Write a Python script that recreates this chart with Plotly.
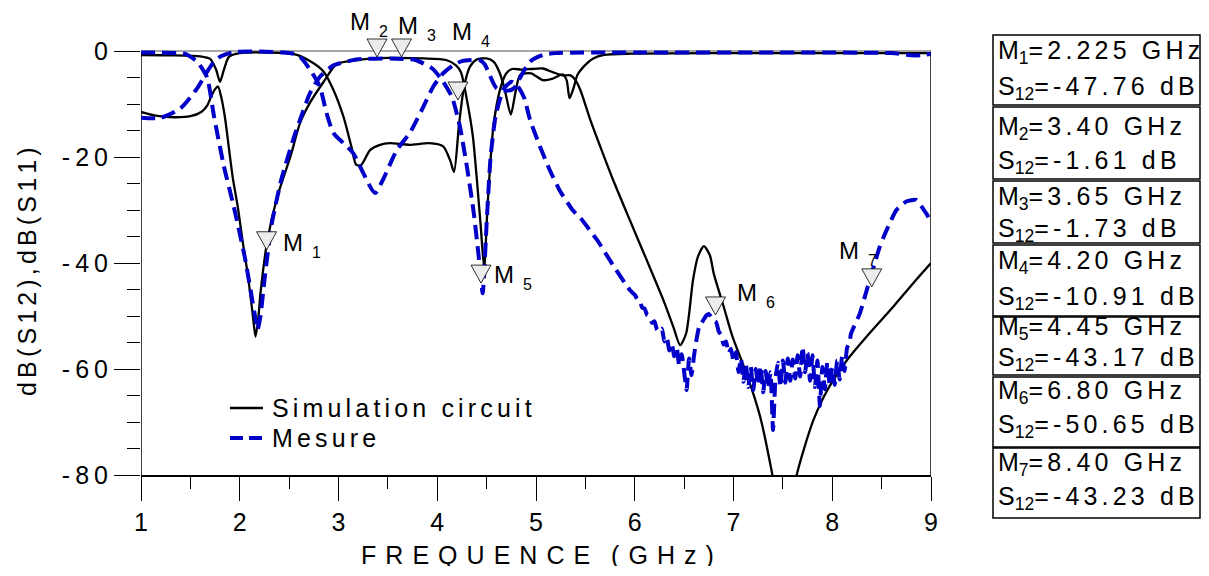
import plotly.graph_objects as go

# ---------------- data ----------------
# simulated S12 (solid black)
sim_s12_f = [1.00, 1.15, 1.34, 1.50, 1.61, 1.67, 1.71, 1.75, 1.78, 1.81, 1.85, 1.88, 1.93, 1.98,
             2.03, 2.08, 2.13, 2.16, 2.19, 2.21, 2.28, 2.38, 2.52, 2.61, 2.71, 2.85, 2.98, 3.18,
             3.52, 3.86, 4.09, 4.19, 4.24, 4.30, 4.36, 4.40, 4.44, 4.475, 4.51, 4.57, 4.64, 4.70,
             4.76, 4.85, 4.95, 5.07, 5.17, 5.27, 5.35, 5.40, 5.45, 5.55, 5.65, 5.78, 5.95, 6.12,
             6.29, 6.39, 6.46, 6.52, 6.59, 6.64, 6.70, 6.76, 6.80, 6.90, 6.99, 7.13, 7.27, 7.39,
             7.45, 7.52, 7.58, 7.64, 7.71, 7.81, 7.95, 8.15, 8.38, 8.62, 8.82, 9.00]
sim_s12_db = [-11.5, -12.2, -12.5, -12.3, -11.5, -10.3, -8.6, -7.2, -6.7, -8.5, -12.5, -16.8, -24.0, -29.4,
              -36.0, -42.0, -49.5, -53.9, -50.0, -45.7, -35.7, -27.5, -19.5, -13.6, -9.8, -5.8, -2.5, -1.7,
              -1.3, -1.4, -1.7, -2.7, -4.0, -9.2, -16.0, -24.0, -33.0, -41.0, -29.0, -14.0, -7.0, -4.2,
              -3.4, -3.5, -3.4, -3.3, -4.0, -4.6, -4.6, -5.5, -7.4, -13.0, -18.0, -24.3, -31.9, -39.4,
              -47.0, -52.0, -55.5, -53.3, -43.2, -38.8, -36.8, -38.5, -42.0, -48.2, -53.9, -60.8, -69.0, -79.6,
              -86.0, -90.0, -86.0, -80.0, -75.3, -69.6, -64.0, -58.3, -53.2, -48.2, -43.8, -40.0]

# simulated S11 (solid black)
sim_s11_f = [1.00, 1.30, 1.60, 1.70, 1.76, 1.80, 1.84, 1.89, 2.00, 2.30, 2.55, 2.71, 2.85, 2.95,
             3.05, 3.13, 3.18, 3.23, 3.32, 3.42, 3.52, 3.72, 3.92, 4.06, 4.13, 4.17, 4.22, 4.27,
             4.33, 4.40, 4.50, 4.57, 4.63, 4.68, 4.745, 4.79, 4.84, 4.95, 5.07, 5.17, 5.27, 5.31,
             5.34, 5.38, 5.42, 5.48, 5.58, 5.69, 5.96, 7.00, 9.00]
sim_s11_db = [-0.75, -0.8, -1.0, -1.5, -3.5, -5.8, -3.5, -1.1, -0.4, -0.3, -0.6, -1.9, -3.9, -7.4,
              -12.4, -18.0, -21.5, -21.5, -18.7, -17.7, -17.4, -17.7, -17.4, -18.0, -20.6, -22.8, -14.0, -6.9,
              -3.0, -1.6, -1.4, -2.0, -4.0, -7.0, -12.0, -8.0, -4.5, -4.2, -5.5, -5.2, -4.4, -5.5,
              -8.9, -7.0, -4.5, -3.0, -1.4, -0.75, -0.5, -0.4, -0.4]

# measured S12 (blue dashed)
meas_s12_f = [1.00, 1.20, 1.44, 1.57, 1.67, 1.74, 1.84, 1.94, 2.05, 2.15, 2.18, 2.21, 2.25, 2.32,
              2.42, 2.55, 2.61, 2.71, 2.81, 2.95, 3.18, 3.52, 3.78, 3.95, 4.05, 4.15, 4.23, 4.30,
              4.37, 4.42, 4.46, 4.50, 4.54, 4.59, 4.67, 4.75, 4.81, 4.88, 4.94, 5.04, 5.14, 5.24,
              5.37, 5.45, 5.62, 5.79, 5.95,
              6.000, 6.025, 6.050, 6.075, 6.100, 6.125, 6.150, 6.175, 6.200, 6.225, 6.250, 6.275,
              6.300, 6.325, 6.350, 6.375, 6.400, 6.425, 6.450, 6.475, 6.500, 6.525, 6.550, 6.575,
              6.600, 6.625, 6.650, 6.675, 6.700, 6.725, 6.750, 6.775, 6.800, 6.825, 6.850, 6.875,
              6.900, 6.925, 6.950, 6.975, 7.000, 7.025, 7.050, 7.075, 7.100, 7.125, 7.150, 7.175,
              7.200, 7.225, 7.250, 7.275, 7.300, 7.325, 7.350, 7.375, 7.400, 7.425, 7.450, 7.475,
              7.500, 7.525, 7.550, 7.575, 7.600, 7.625, 7.650, 7.675, 7.700, 7.725, 7.750, 7.775,
              7.800, 7.825, 7.850, 7.875, 7.900, 7.925, 7.950, 7.975, 8.000, 8.025, 8.050, 8.075,
              8.100, 8.125, 8.150, 8.175,
              8.19, 8.28, 8.34, 8.41, 8.48, 8.55, 8.65, 8.75, 8.85, 8.95, 9.00]
meas_s12_db = [-0.3, -0.3, -0.5, -2.0, -5.0, -12.4, -21.8, -29.4, -38.8, -49.5, -52.6, -50.0, -43.2, -33.0,
               -24.3, -16.2, -13.0, -8.0, -4.9, -2.7, -1.6, -1.4, -1.7, -3.3, -5.5, -8.7, -14.3, -21.8,
               -30.6, -38.8, -45.7, -32.5, -20.0, -12.4, -7.2, -5.8, -6.5, -8.8, -13.0, -18.0, -22.5, -26.3,
               -30.0, -31.5, -35.7, -40.7, -45.1,
               -46.0, -46.8, -47.2, -48.4, -48.6, -49.8, -50.1, -51.3, -51.0, -52.6, -53.0, -52.4,
               -54.8, -54.0, -56.5, -55.2, -57.6, -56.0, -59.4, -57.2, -60.5, -64.0, -58.0, -61.2,
               -57.5, -54.5, -52.2, -51.4, -50.6, -49.9, -49.6, -50.2, -50.9, -51.2, -52.9, -53.6,
               -55.4, -54.8, -57.0, -56.2, -58.6, -56.8, -60.6, -58.0, -62.4, -59.0, -63.4, -59.6,
               -64.0, -60.0, -63.0, -59.4, -64.4, -60.4, -63.6, -60.6, -71.5, -61.8, -58.8, -63.4,
               -58.4, -62.6, -58.0, -62.2, -58.2, -61.8, -57.4, -61.4, -55.8, -60.6, -57.0, -62.2,
               -57.4, -63.4, -58.4, -67.0, -59.6, -63.8, -58.8, -63.2, -59.8, -63.0, -58.4, -62.0,
               -57.6, -60.4, -56.0, -55.0,
               -53.3, -49.5, -45.7, -41.3, -37.0, -33.8, -30.0, -28.4, -28.1, -30.6, -32.2]

# measured S11 (blue dashed)
meas_s11_f = [1.00, 1.20, 1.40, 1.57, 1.67, 1.74, 1.81, 1.94, 2.20, 2.45, 2.59, 2.70, 2.81, 2.88,
              2.95, 3.05, 3.15, 3.25, 3.37, 3.45, 3.59, 3.72, 3.86, 3.96, 4.06, 4.16, 4.25, 4.35,
              4.43, 4.48, 4.53, 4.60, 4.70, 4.78, 4.84, 4.94, 5.07, 5.20, 6.00, 8.00, 8.60, 8.80,
              8.90, 9.00]
meas_s11_db = [-12.6, -12.6, -10.8, -7.0, -3.9, -2.0, -1.0, -0.2, -0.1, -0.3, -0.75, -3.2, -6.7, -11.8,
               -15.5, -17.4, -19.3, -23.0, -26.8, -24.3, -18.7, -15.5, -10.5, -6.7, -4.2, -2.7, -1.9, -1.7,
               -1.7, -2.5, -4.5, -7.0, -7.5, -7.0, -5.0, -2.0, -0.75, -0.4, -0.3, -0.3, -0.4, -0.8,
               -0.8, -0.5]

# marker triangles (tip position on the plot) and their table values
marker_ids = ["1", "2", "3", "4", "5", "6", "7"]
marker_f = [2.272, 3.39, 3.638, 4.21, 4.443, 6.818, 8.40]
marker_db = [-37.5, -1.13, -1.13, -9.25, -43.8, -49.8, -44.5]
table_freq = ["2.225", "3.40", "3.65", "4.20", "4.45", "6.80", "8.40"]
table_s12 = ["-47.76", "-1.61", "-1.73", "-10.91", "-43.17", "-50.65", "-43.23"]

legend_names = ["Simulation circuit", "Mesure"]
y_ticks = [0, -20, -40, -60, -80]
x_ticks = [1, 2, 3, 4, 5, 6, 7, 8, 9]

# ---------------- style / layout ----------------
FONT = "Liberation Sans, Arial, sans-serif"
BLUE = "#0000c8"
DASH = "14px,7px"
THIN = "\u2009"
HAIR = "\u200a"
SIXTH = "\u2006"

# the page has an 8px body margin: the figure is 1193x560 and page pixels are
# mapped to paper coordinates through the plot area (141..931, 32..475 on the page)
W, H = 1193, 560
OFF = 8
PL, PR, PT, PB = 141, 931, 32, 475
L, T = PL - OFF, PT - OFF
R = W - (PR - OFF)
B = H - (PB - OFF)


def px_x(p):
    return (p - PL) / (PR - PL)


def px_y(p):
    return (PB - p) / (PB - PT)


def spaced(s, sep):
    return sep.join(s)


fig = go.Figure()

fig.add_trace(go.Scatter(x=sim_s12_f, y=sim_s12_db, mode="lines", showlegend=False,
                         line=dict(color="black", width=2.3, shape="spline", smoothing=0.7)))
fig.add_trace(go.Scatter(x=sim_s11_f, y=sim_s11_db, mode="lines", showlegend=False,
                         line=dict(color="black", width=2.3, shape="spline", smoothing=0.7)))
fig.add_trace(go.Scatter(x=meas_s12_f, y=meas_s12_db, mode="lines", showlegend=False,
                         line=dict(color=BLUE, width=4, dash=DASH, shape="spline", smoothing=0.5)))
fig.add_trace(go.Scatter(x=meas_s11_f, y=meas_s11_db, mode="lines", showlegend=False,
                         line=dict(color=BLUE, width=4, dash=DASH, shape="spline", smoothing=0.7)))

shapes = []
# frame: left + right black, top grey at 0 dB
shapes.append(dict(type="line", xref="x", yref="y", x0=1, x1=1, y0=-80, y1=0,
                   line=dict(color="black", width=1.5), layer="below"))
shapes.append(dict(type="line", xref="x", yref="y", x0=9, x1=9, y0=-80, y1=0,
                   line=dict(color="black", width=1.5), layer="below"))
shapes.append(dict(type="line", xref="x", yref="y", x0=1, x1=9, y0=0, y1=0,
                   line=dict(color="#8a8a8a", width=1.5), layer="below"))

# marker triangles
for f, db in zip(marker_f, marker_db):
    shapes.append(dict(type="path", xref="x", yref="y", xsizemode="pixel", ysizemode="pixel",
                       xanchor=f, yanchor=db, path="M-10,18L10,18L0,0Z",
                       fillcolor="#ececec", line=dict(color="black", width=0.8)))

annotations = []
# marker labels: offsets (px) of the "M" from the triangle tip
lab_dx = [14, -29, -5.5, -8, 11, 19.5, -35]
lab_dy = [8, 36, 32, 69, 9, 23, 37]
for mid, f, db, dx, dy in zip(marker_ids, marker_f, marker_db, lab_dx, lab_dy):
    annotations.append(dict(x=f, y=db, xref="x", yref="y", text="M", showarrow=False,
                            xanchor="left", yanchor="middle", xshift=dx, yshift=dy, height=20,
                            font=dict(family=FONT, size=24, color="black")))
    annotations.append(dict(x=f, y=db, xref="x", yref="y", text=mid, showarrow=False,
                            xanchor="left", yanchor="middle", xshift=dx + 29, yshift=dy - 10, height=14,
                            font=dict(family=FONT, size=16, color="black")))

# legend drawn inside the plot
leg_y = [408, 438]
leg_style = [dict(color="black", width=2.3), dict(color=BLUE, width=4, dash="13px,6px")]
for name, yy, st in zip(legend_names, leg_y, leg_style):
    shapes.append(dict(type="line", xref="paper", yref="paper",
                       x0=px_x(230), x1=px_x(263), y0=px_y(yy), y1=px_y(yy), line=st))
    annotations.append(dict(x=px_x(270), y=px_y(yy), xref="paper", yref="paper",
                            text=spaced(name, SIXTH), showarrow=False,
                            xanchor="left", yanchor="middle",
                            font=dict(family=FONT, size=25, color="black")))

# table on the right
box_top = [35, 107, 181, 245, 317, 377, 448]
box_bot = [105, 179, 243, 316, 375, 447, 518]
line1_y = [52.5, 127.5, 197.5, 262.5, 328, 392, 463.5]
line2_y = [88, 161.5, 229.5, 298, 358.5, 426, 497.5]
for i, (mid, fq, s) in enumerate(zip(marker_ids, table_freq, table_s12)):
    shapes.append(dict(type="rect", xref="paper", yref="paper",
                       x0=px_x(993), x1=px_x(1200), y0=px_y(box_bot[i]), y1=px_y(box_top[i]),
                       line=dict(color="black", width=1.5), fillcolor="white"))
    annotations.append(dict(x=px_x(996), y=px_y(line1_y[i]), xref="paper", yref="paper",
                            text="M<sub>" + mid + "</sub>" + spaced("=" + fq + " GHz", SIXTH),
                            showarrow=False, xanchor="left", yanchor="middle",
                            font=dict(family=FONT, size=25, color="black")))
    annotations.append(dict(x=px_x(996), y=px_y(line2_y[i]), xref="paper", yref="paper",
                            text="S<sub>12</sub>" + spaced("=" + s + " dB", SIXTH),
                            showarrow=False, xanchor="left", yanchor="middle",
                            font=dict(family=FONT, size=25, color="black")))

# axis titles
annotations.append(dict(x=px_x(537), y=px_y(555), xref="paper", yref="paper",
                        text=spaced("FREQUENCE", " " + HAIR) + "   " + spaced("(GHz)", " " + HAIR),
                        showarrow=False, xanchor="center", yanchor="middle", height=22,
                        font=dict(family=FONT, size=25, color="black")))
annotations.append(dict(x=px_x(27), y=px_y(272), xref="paper", yref="paper",
                        text=spaced("dB(S12),dB(S11)", SIXTH), textangle=-90,
                        showarrow=False, xanchor="center", yanchor="middle",
                        font=dict(family=FONT, size=25, color="black")))

fig.update_layout(
    width=W, height=H,
    margin=dict(l=L, r=R, t=T, b=B, pad=0),
    paper_bgcolor="white", plot_bgcolor="white",
    font=dict(family=FONT, size=25, color="black"),
    showlegend=False,
    shapes=shapes,
    annotations=annotations,
)

fig.update_xaxes(range=[1, 9], showgrid=False, zeroline=False,
                 showline=True, linecolor="black", linewidth=1.5,
                 ticks="outside", ticklen=24, tickwidth=1.2, tickcolor="black",
                 tickvals=x_ticks, ticktext=[str(v) for v in x_ticks],
                 ticklabelstandoff=0,
                 minor=dict(ticks="outside", ticklen=12, tickwidth=1.2, tickcolor="black", dtick=0.5, tick0=1),
                 tickfont=dict(family=FONT, size=25, color="black"))
fig.update_yaxes(range=[-80, (PB - PT) / 5.3 - 80], showgrid=False, zeroline=False,
                 showline=False,
                 ticks="outside", ticklen=26, tickwidth=1.2, tickcolor="black",
                 tickvals=y_ticks, ticktext=[spaced(str(v), THIN) for v in y_ticks],
                 ticklabelstandoff=1,
                 minor=dict(ticks="outside", ticklen=13, tickwidth=1.2, tickcolor="black", dtick=5, tick0=0),
                 tickfont=dict(family=FONT, size=25, color="black"))

fig.write_html("out.html")
